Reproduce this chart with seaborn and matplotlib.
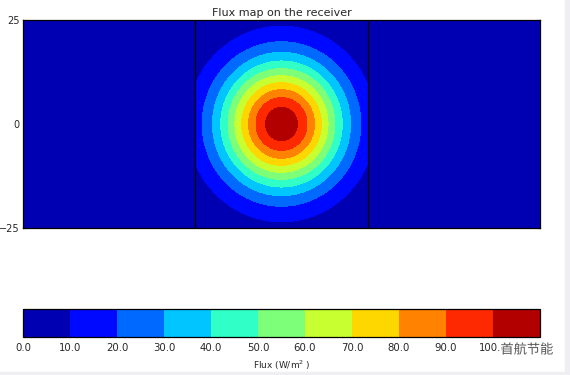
import numpy as np
import matplotlib
matplotlib.use("Agg")
import matplotlib.pyplot as plt
import matplotlib.patheffects as pe
from matplotlib.patches import Rectangle
import seaborn as sb

sb.set_style("white")
plt.rcParams["font.family"] = ["DejaVu Sans", "Noto Sans CJK SC"]

# flux map parameters
peak_flux = 107.0          # W/m2 at the spot centre
spot_sigma = 10.8          # gaussian width of the spot
spot_centre = (0.0, 0.0)
panel_edges = [-64.5, -21.5, 21.5, 64.5]   # receiver panels (x)
y_limits = [-25, 25]
flux_levels = [0, 10, 20, 30, 40, 50, 60, 70, 80, 90, 100, 110]
cbar_ticks = [0, 10, 20, 30, 40, 50, 60, 70, 80, 90, 100]
y_ticks = [-25, 0, 25]

x = np.linspace(panel_edges[0], panel_edges[-1], 1400)
y = np.linspace(y_limits[0], y_limits[1], 600)
X, Y = np.meshgrid(x, y)
R2 = (X - spot_centre[0]) ** 2 + (Y - spot_centre[1]) ** 2
flux = peak_flux * np.exp(-R2 / (2 * spot_sigma ** 2))
# only the middle panel is lit
flux[(X < panel_edges[1]) | (X > panel_edges[2])] = 0.0

fig = plt.figure(figsize=(5.7, 3.75), dpi=100)
ax = fig.add_axes([23 / 570, 1 - 228 / 375, 517 / 570, 208 / 375])
cax = fig.add_axes([23 / 570, 1 - 337 / 375, 517 / 570, 28 / 375])

cs = ax.contourf(X, Y, flux, levels=flux_levels, cmap="jet")
for xe in panel_edges[1:-1]:
    ax.axvline(xe, color="black", lw=0.9)

ax.set_xlim(panel_edges[0], panel_edges[-1])
ax.set_ylim(y_limits)
ax.set_xticks([])
ax.set_yticks(y_ticks)
ax.set_yticklabels(["\u221225", "0", "25"])
ax.tick_params(axis="y", direction="in", length=3, width=0.8, left=True, right=True,
               labelsize=7, pad=2.5)
ax.set_title("Flux map on the receiver", fontsize=8, pad=3)
for s in ax.spines.values():
    s.set_color("black")
    s.set_linewidth(0.9)

cb = fig.colorbar(cs, cax=cax, orientation="horizontal", ticks=cbar_ticks)
cb.ax.set_xticklabels(["%.1f" % t for t in cbar_ticks])
cb.ax.tick_params(direction="in", length=3, width=0.8, labelsize=7.3, pad=4)
cb.set_label("Flux (W/m$^2$ )", fontsize=6.5, labelpad=4)
cb.outline.set_edgecolor("black")
cb.outline.set_linewidth(0.9)

# watermark
fig.text(527 / 570, 1 - 350 / 375, "首航节能", fontsize=9.5, color="#555555",
         ha="center", va="center", family=["Noto Sans CJK SC"],
         path_effects=[pe.withStroke(linewidth=2, foreground="white")])

# light frame of the screenshot
fig.patches.append(Rectangle((565 / 570, 0), 5 / 570, 1, transform=fig.transFigure,
                             color="#eeeef3", zorder=-1))
fig.patches.append(Rectangle((0, 0), 1, 3 / 375, transform=fig.transFigure,
                             color="#eeeef3", zorder=-1))

fig.savefig("out.png", dpi=100)
